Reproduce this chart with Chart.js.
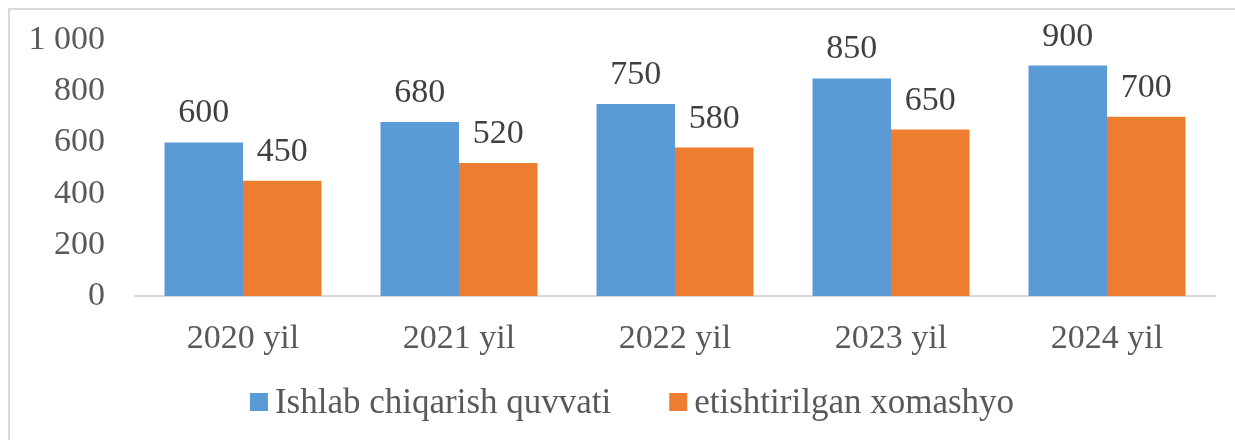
<!DOCTYPE html>
<html>
<head>
<meta charset="utf-8">
<script src="https://cdn.jsdelivr.net/npm/chart.js@4"></script>
<style>
  html, body { margin: 0; padding: 0; background: #fff; overflow: hidden; }
  #wrap { width: 1235px; height: 440px; position: relative; }
</style>
</head>
<body>
<div id="wrap"><canvas id="grafica" width="1235" height="440"></canvas></div>
<script>
const yillar = ['2020 yil', '2021 yil', '2022 yil', '2023 yil', '2024 yil'];
const quvvat = [600, 680, 750, 850, 900];
const xomashyo = [450, 520, 580, 650, 700];
const yTicks = [0, 200, 400, 600, 800, 1000];

const shrift = 'Liberation Serif, "Times New Roman", serif';

// ramka, qiymat yozuvlari va legenda
const qoshimcha = {
  id: 'qoshimcha',
  beforeDraw(chart) {
    const ctx = chart.ctx;
    ctx.save();
    ctx.strokeStyle = '#d9d9d9';
    ctx.lineWidth = 2;
    ctx.strokeRect(9, 9, 1250, 460);
    ctx.restore();
  },
  afterDatasetsDraw(chart) {
    const ctx = chart.ctx;
    ctx.save();
    ctx.font = '34px ' + shrift;
    ctx.fillStyle = '#404040';
    ctx.textAlign = 'center';
    ctx.textBaseline = 'alphabetic';
    chart.data.datasets.forEach((ds, i) => {
      chart.getDatasetMeta(i).data.forEach((bar, j) => {
        ctx.fillText(String(ds.data[j]), bar.x, bar.y - 20);
      });
    });
    ctx.restore();
  },
  afterDraw(chart) {
    const ctx = chart.ctx;
    ctx.save();
    ctx.font = '35px ' + shrift;
    ctx.textBaseline = 'alphabetic';
    ctx.textAlign = 'left';
    const box = 18, gap = 7, oraliq = 58;
    const items = chart.data.datasets.map(ds => ({ text: ds.label, color: ds.backgroundColor, w: ctx.measureText(ds.label).width }));
    let total = items.reduce((s, it) => s + box + gap + it.w, 0) + oraliq * (items.length - 1);
    let x = 632 - total / 2;
    const base = 413;
    items.forEach(it => {
      ctx.fillStyle = it.color;
      ctx.fillRect(x, base - 20, box, box);
      ctx.fillStyle = '#595959';
      ctx.fillText(it.text, x + box + gap, base);
      x += box + gap + it.w + oraliq;
    });
    ctx.restore();
  }
};

new Chart(document.getElementById('grafica').getContext('2d'), {
  type: 'bar',
  data: {
    labels: yillar,
    datasets: [{
      label: 'Ishlab chiqarish quvvati',
      data: quvvat,
      backgroundColor: '#5b9bd5'
    }, {
      label: 'etishtirilgan xomashyo',
      data: xomashyo,
      backgroundColor: '#ed7d31'
    }]
  },
  options: {
    responsive: false,
    animation: false,
    layout: { padding: { top: 40, right: 20, bottom: 0, left: 0 } },
    categoryPercentage: 0.727,
    barPercentage: 1,
    plugins: {
      tooltip: { enabled: false },
      legend: { display: false }
    },
    scales: {
      x: {
        afterFit(scale) { scale.height = 144; },
        grid: { display: false },
        border: { color: '#d9d9d9', width: 2 },
        ticks: { font: { family: shrift, size: 34 }, color: '#595959', padding: 15 }
      },
      y: {
        min: 0,
        max: 1000,
        afterFit(scale) { scale.width = 135; scale.paddingTop = 0; scale.paddingBottom = 0; },
        afterBuildTicks(scale) { scale.ticks = yTicks.map(v => ({ value: v })); },
        grid: { display: false, drawTicks: false },
        border: { display: false },
        ticks: {
          font: { family: shrift, size: 34, lineHeight: 0.5 },
          color: '#595959',
          padding: 30,
          callback: v => v === 1000 ? '1 000' : String(v)
        }
      }
    }
  },
  plugins: [qoshimcha]
});
</script>
</body>
</html>
